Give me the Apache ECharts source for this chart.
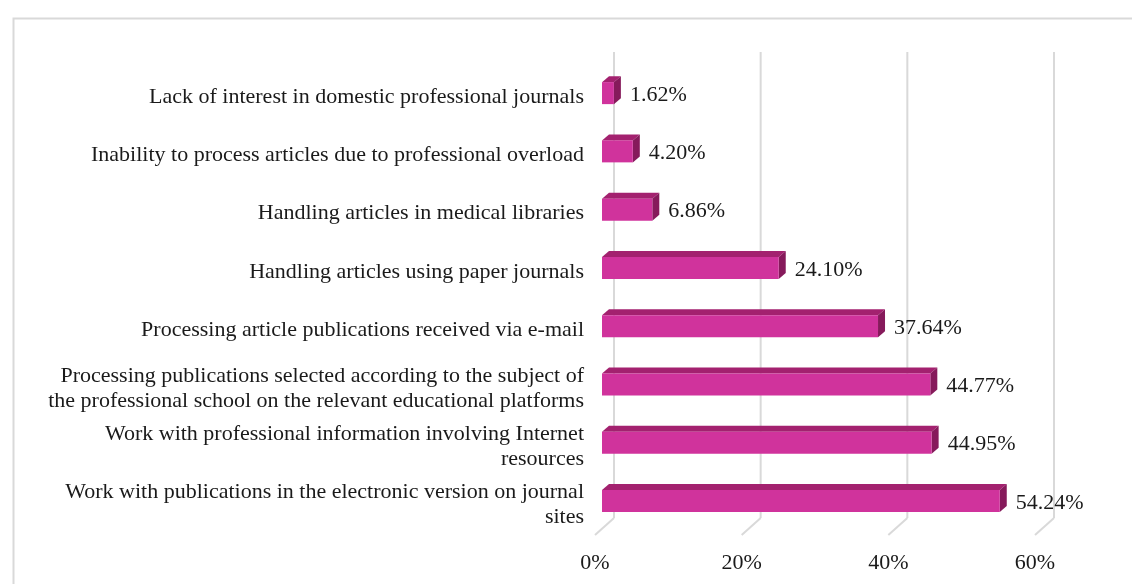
<!DOCTYPE html>
<html>
<head>
<meta charset="utf-8">
<script src="https://cdn.jsdelivr.net/npm/echarts@6/dist/echarts.min.js"></script>
<style>
  html, body { margin: 0; padding: 0; background: #ffffff; }
  #chart { width: 1132px; height: 584px; }
</style>
</head>
<body>
<div id="chart"></div>
<script>
// Survey answers, listed top to bottom
const categories = [
  'Lack of interest in domestic professional journals',
  'Inability to process articles due to professional overload',
  'Handling articles in medical libraries',
  'Handling articles using paper journals',
  'Processing article publications received via e-mail',
  'Processing publications selected according to the subject of\nthe professional school on the relevant educational platforms',
  'Work with professional information involving Internet\nresources',
  'Work with publications in the electronic version on journal\nsites'
];
const values = [1.62, 4.20, 6.86, 24.10, 37.64, 44.77, 44.95, 54.24];
const axisTicks = [0, 20, 40, 60];

const FONT = "'Liberation Serif', 'Times New Roman', serif";
const FONT_SIZE = 22;
const BAR_H = 22;          // front face height
const DEPTH = [7, -6];     // oblique offset of the bar's top/side faces
const WALL = [12, -16];    // back wall offset from the front plane

const chart = echarts.init(document.getElementById('chart'));

function renderBar(params, api) {
  const idx = api.value(0);
  const v = api.value(1);
  const p0 = api.coord([0, idx]);
  const p1 = api.coord([v, idx]);
  const x0 = p0[0], x1 = p1[0];
  const y0 = p0[1] - 4 - BAR_H / 2;
  const dx = DEPTH[0], dy = DEPTH[1];
  return {
    type: 'group',
    children: [
      { type: 'polygon', shape: { points: [[x0, y0], [x1, y0], [x1 + dx, y0 + dy], [x0 + dx, y0 + dy]] },
        style: { fill: '#a3216f' } },
      { type: 'polygon', shape: { points: [[x1, y0], [x1 + dx, y0 + dy], [x1 + dx, y0 + dy + BAR_H], [x1, y0 + BAR_H]] },
        style: { fill: '#861a5b' } },
      { type: 'rect', shape: { x: x0, y: y0, width: x1 - x0, height: BAR_H },
        style: { fill: '#d0339c' } },
      { type: 'text', x: x1 + dx + 9, y: y0 + BAR_H / 2 + 2,
        style: { text: v.toFixed(2) + '%', fill: '#1a1a1a', font: FONT_SIZE + 'px ' + FONT,
                 textAlign: 'left', textVerticalAlign: 'middle' } }
    ]
  };
}

function renderWall(params, api) {
  const t = api.value(0);
  const xf = api.coord([t, 0])[0];
  const cs = params.coordSys;
  const bx = xf + WALL[0];
  const top = cs.y + WALL[1];
  const bottom = cs.y + cs.height + WALL[1];
  return {
    type: 'group',
    children: [
      { type: 'line', shape: { x1: bx, y1: top, x2: bx, y2: bottom },
        style: { stroke: '#d9d9d9', lineWidth: 2 } },
      { type: 'line', shape: { x1: bx, y1: bottom, x2: xf - 7, y2: bottom - WALL[1] + 1 },
        style: { stroke: '#d9d9d9', lineWidth: 2 } }
    ]
  };
}

chart.setOption({
  backgroundColor: '#ffffff',
  animation: false,
  graphic: [{
    type: 'rect', left: 11, top: 16, z: -10,
    shape: { width: 1200, height: 700 },
    style: { fill: 'none', stroke: '#d9d9d9', lineWidth: 2 }
  }],
  grid: { left: 602, right: 90, top: 68, bottom: 50, containLabel: false },
  xAxis: {
    type: 'value', min: 0, max: 60, interval: 20,
    axisLine: { show: false }, axisTick: { show: false }, splitLine: { show: false },
    axisLabel: {
      formatter: '{value}%', fontFamily: FONT, fontSize: FONT_SIZE, color: '#1a1a1a',
      margin: 18, padding: [0, 14, 0, 0]
    }
  },
  yAxis: {
    type: 'category', inverse: true, data: categories,
    axisLine: { show: false }, axisTick: { show: false }, splitLine: { show: false },
    axisLabel: {
      fontFamily: FONT, fontSize: FONT_SIZE, color: '#1a1a1a', margin: 18, lineHeight: 25,
      align: 'right'
    }
  },
  series: [
    {
      type: 'custom', name: 'wall', z: 1, silent: true,
      renderItem: renderWall,
      encode: { x: 0 },
      data: axisTicks.map(t => [t, 0])
    },
    {
      type: 'custom', name: 'share', z: 2,
      renderItem: renderBar,
      encode: { y: 0, x: 1 },
      data: values.map((v, i) => [i, v])
    }
  ]
});
</script>
</body>
</html>
